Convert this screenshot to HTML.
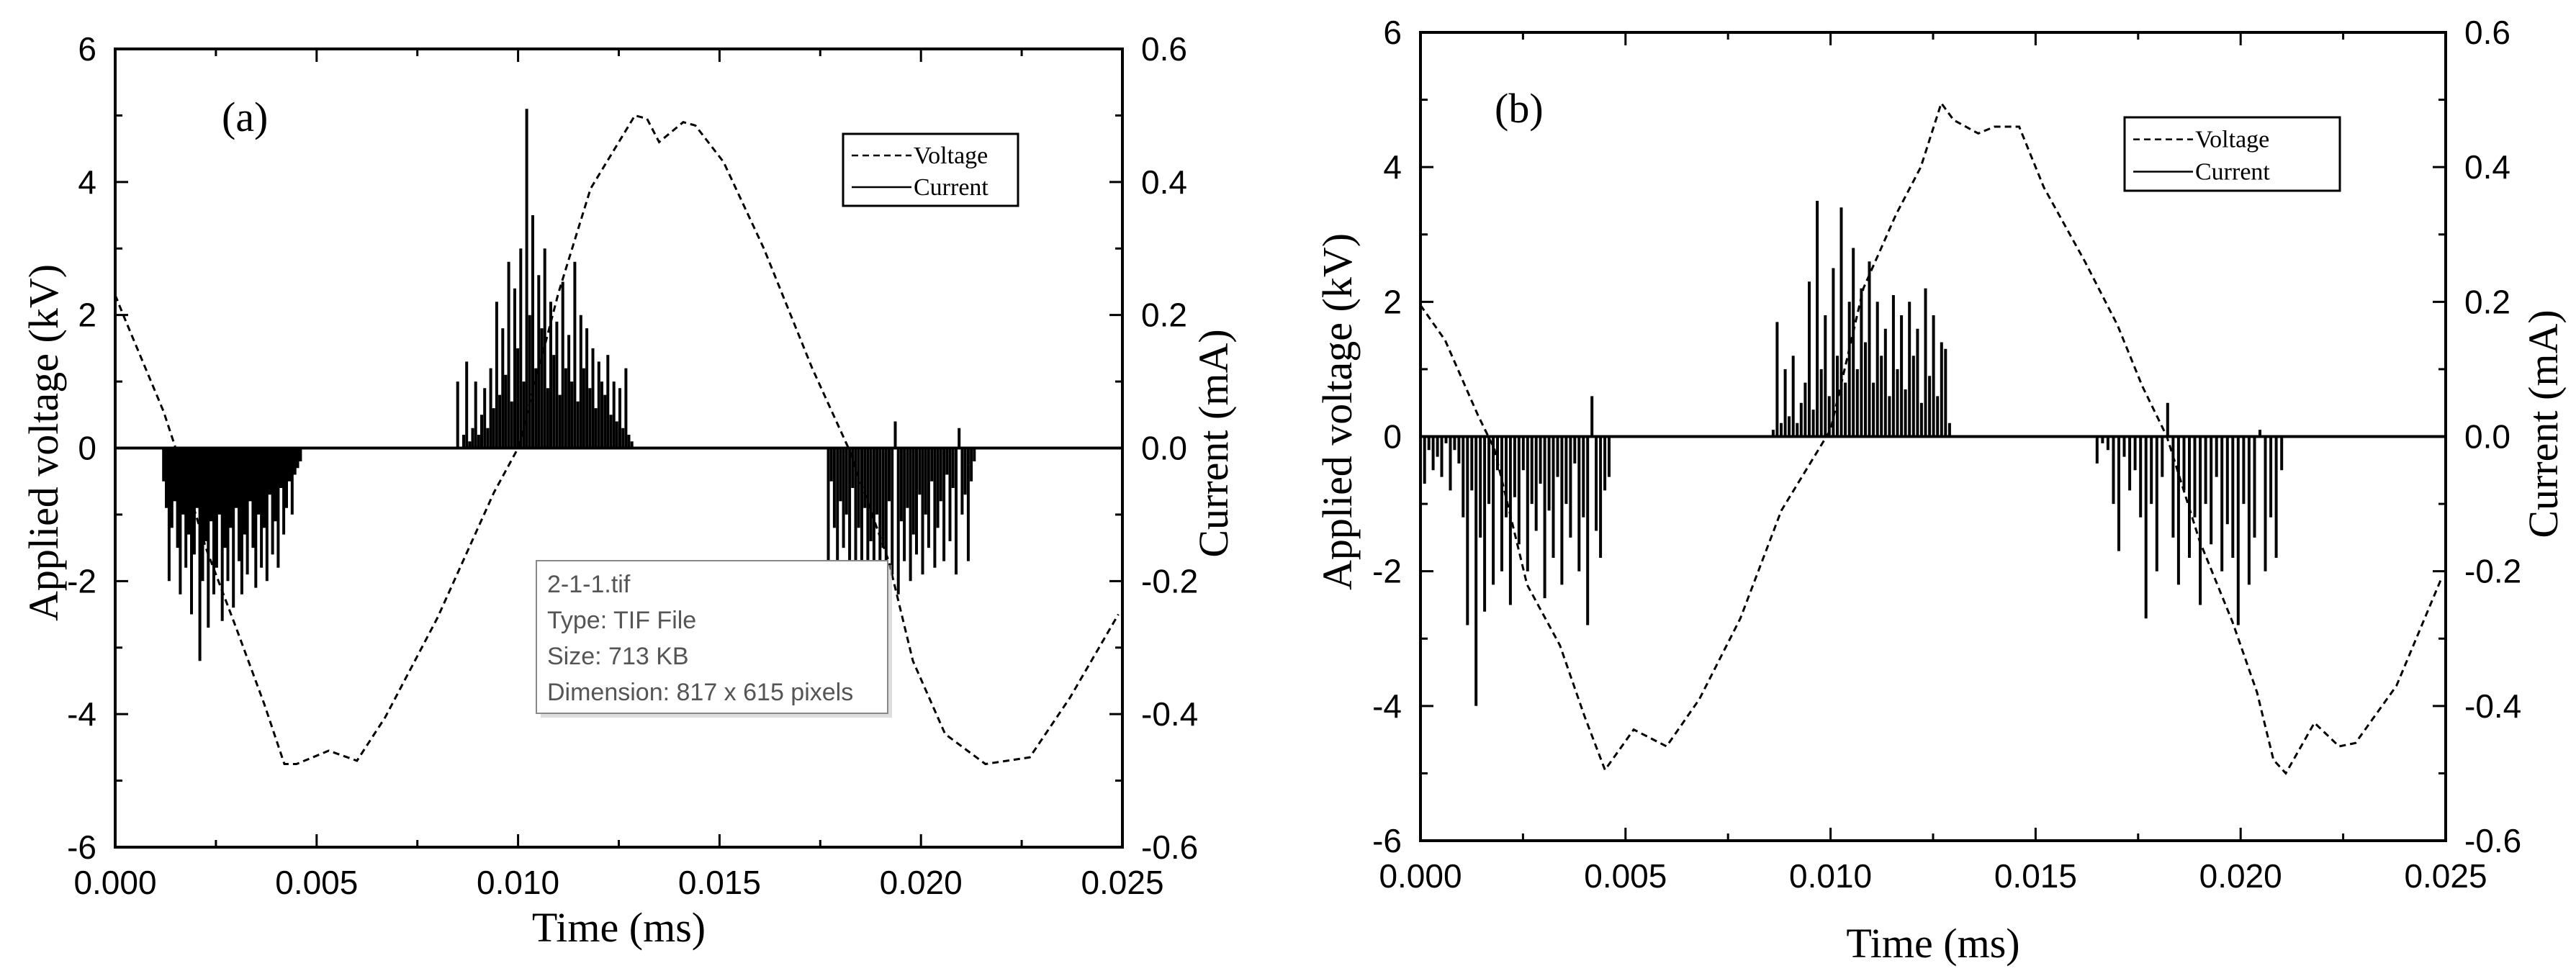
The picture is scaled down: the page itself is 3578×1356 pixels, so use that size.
<!DOCTYPE html>
<html><head><meta charset="utf-8"><title>Voltage and current waveforms</title>
<style>
html,body{margin:0;padding:0;background:#fff;}
svg{display:block;}
.tick{font-family:"Liberation Sans",Arial,sans-serif;font-size:46px;fill:#000;}
.title{font-family:"Liberation Serif","Times New Roman",serif;font-size:58px;fill:#000;}
.leg{font-family:"Liberation Serif","Times New Roman",serif;font-size:34px;fill:#000;}
.tip{font-family:"Liberation Sans",sans-serif;font-size:34px;fill:#555;}
</style></head>
<body>
<svg id="fig" xmlns="http://www.w3.org/2000/svg" width="3578" height="1356" viewBox="0 0 3578 1356">
<rect x="0" y="0" width="3578" height="1356" fill="#fff"/>
</svg>
<script>
// ---- shared tick labels ----
const xTicks = [0, 0.005, 0.010, 0.015, 0.020, 0.025];
const xTickLabels = ["0.000","0.005","0.010","0.015","0.020","0.025"];
const yTicks = [-6,-4,-2,0,2,4,6];
const yTickLabels = ["-6","-4","-2","0","2","4","6"];
const y2TickLabels = ["-0.6","-0.4","-0.2","0.0","0.2","0.4","0.6"];

// ---- panel (a) data ----
const voltA_t = [0,0.0002,0.0012,0.0015,0.00225,0.003,0.0037,0.0042,0.0045,0.0053,0.006,0.0067,0.008,0.0094,0.010,0.011,0.0118,0.0129,0.0132,0.0135,0.0141,0.0144,0.0151,0.0161,0.0173,0.0182,0.0192,0.0198,0.0206,0.0216,0.0227,0.0237,0.0249];
const voltA_v = [2.3,2.0,0.55,0,-1.5,-2.7,-3.85,-4.75,-4.75,-4.55,-4.7,-4.05,-2.55,-0.67,0,2.33,3.9,5.0,4.95,4.6,4.9,4.85,4.3,3.0,1.2,0,-1.7,-3.2,-4.3,-4.75,-4.65,-3.75,-2.5];
const burstA1 = [0.0012,0.0046];
const currA1 = [-0.05,-0.09,-0.2,-0.12,-0.08,-0.15,-0.22,-0.1,-0.18,-0.13,-0.25,-0.16,-0.09,-0.32,-0.2,-0.14,-0.27,-0.11,-0.22,-0.18,-0.1,-0.26,-0.15,-0.2,-0.12,-0.24,-0.09,-0.17,-0.22,-0.13,-0.19,-0.08,-0.15,-0.21,-0.1,-0.18,-0.12,-0.2,-0.07,-0.16,-0.11,-0.18,-0.06,-0.13,-0.09,-0.05,-0.1,-0.04,-0.03,-0.02];
const burstA2 = [0.0085,0.0129];
const currA2 = [0.1,0,0.02,0.13,0.01,0.03,0.1,0.02,0.05,0.09,0.03,0.12,0.06,0.22,0.08,0.18,0.11,0.28,0.07,0.24,0.15,0.3,0.1,0.51,0.2,0.35,0.12,0.26,0.18,0.3,0.09,0.22,0.14,0.19,0.08,0.25,0.12,0.17,0.1,0.28,0.07,0.2,0.12,0.18,0.09,0.15,0.06,0.13,0.1,0.08,0.14,0.05,0.1,0.04,0.09,0.03,0.12,0.02,0.01,0];
const burstA3 = [0.0177,0.0214];
const currA3 = [-0.17,-0.05,-0.12,-0.2,-0.08,-0.15,-0.1,-0.18,-0.06,-0.22,-0.12,-0.25,-0.09,-0.18,-0.14,-0.28,-0.1,-0.2,-0.15,-0.24,-0.08,-0.19,0.04,-0.22,-0.11,-0.17,-0.09,-0.2,-0.13,-0.16,-0.07,-0.19,-0.1,-0.15,-0.05,-0.18,-0.12,-0.08,-0.17,-0.04,-0.14,-0.06,-0.19,0.03,-0.1,-0.07,-0.17,-0.05,-0.02,0];

// ---- panel (b) data ----
const voltB_t = [0,0.0006,0.0014,0.0018,0.0026,0.0034,0.004,0.0045,0.0052,0.006,0.0068,0.0078,0.0088,0.0096,0.010,0.0108,0.0116,0.0122,0.0127,0.013,0.0136,0.014,0.0146,0.0152,0.0162,0.017,0.0176,0.0182,0.019,0.0198,0.0204,0.0208,0.0211,0.0218,0.0224,0.0228,0.0238,0.0249];
const voltB_v = [1.95,1.43,0.32,-0.18,-2.2,-3.1,-4.15,-4.95,-4.35,-4.6,-3.9,-2.7,-1.1,-0.3,0.1,2.2,3.3,4.0,4.95,4.7,4.5,4.6,4.6,3.7,2.6,1.65,0.75,0,-1.55,-2.75,-3.8,-4.8,-5.0,-4.25,-4.6,-4.55,-3.7,-2.1];
const burstB1 = [0.0001,0.0046];
const currB1 = [-0.07,-0.02,-0.05,-0.03,-0.06,-0.01,-0.08,-0.02,-0.04,-0.12,-0.28,-0.08,-0.4,-0.15,-0.26,-0.1,-0.22,-0.05,-0.2,-0.12,-0.25,-0.09,-0.16,-0.05,-0.2,-0.1,-0.14,-0.07,-0.24,-0.11,-0.18,-0.06,-0.22,-0.1,-0.15,-0.04,-0.2,-0.12,-0.28,0.06,-0.14,-0.18,-0.08,-0.06];
const burstB2 = [0.0086,0.013];
const currB2 = [0.01,0.17,0.02,0.1,0.03,0.12,0.02,0.05,0.08,0.23,0.04,0.35,0.1,0.18,0.06,0.25,0.12,0.34,0.08,0.2,0.28,0.1,0.22,0.14,0.26,0.08,0.2,0.12,0.16,0.06,0.21,0.1,0.18,0.07,0.2,0.12,0.16,0.05,0.22,0.09,0.18,0.06,0.14,0.13,0.02,0];
const burstB3 = [0.0165,0.021];
const currB3 = [-0.04,-0.01,-0.02,-0.1,-0.17,-0.03,-0.08,-0.05,-0.12,-0.27,-0.1,-0.2,-0.06,0.05,-0.15,-0.22,-0.08,-0.18,-0.12,-0.25,-0.1,-0.16,-0.06,-0.2,-0.13,-0.18,-0.28,-0.1,-0.22,-0.15,0.01,-0.2,-0.12,-0.18,-0.05];

const NS = "http://www.w3.org/2000/svg";
const svg = document.getElementById('fig');
function el(tag, attrs, parent, text){
  const e = document.createElementNS(NS, tag);
  for (const k in attrs) e.setAttribute(k, attrs[k]);
  if (text !== undefined) e.textContent = text;
  (parent||svg).appendChild(e);
  return e;
}

function panel(cfg){
  const g = el('g', {});
  
  
  const X = t => cfg.x0 + (t/0.025)*(cfg.x1-cfg.x0);
  const Y = v => cfg.y1 - ((v+6)/12)*(cfg.y1-cfg.y0);
  const Yc = c => Y(c*10);
  const tk = el('g', {stroke:'#000','stroke-width':3}, g);
  
  
  for (let i=0;i<=10;i++){
    const x = X(i*0.0025), L = (i%2===0)?18:10;
    el('line',{x1:x,y1:cfg.y1,x2:x,y2:cfg.y1-L},tk);
    el('line',{x1:x,y1:cfg.y0,x2:x,y2:cfg.y0+L},tk);
  }
  for (let i=-6;i<=6;i++){
    const y = Y(i), L = (i%2===0)?18:10;
    el('line',{x1:cfg.x0,y1:y,x2:cfg.x0+L,y2:y},tk);
    el('line',{x1:cfg.x1,y1:y,x2:cfg.x1-L,y2:y},tk);
  }
  const fr = el('rect',{x:cfg.x0,y:cfg.y0,width:cfg.x1-cfg.x0,height:cfg.y1-cfg.y0,fill:'none',stroke:'#000','stroke-width':4},g);
  
  
  xTicks.forEach((t,i)=>{
    const tx = el('text',{x:X(t),y:cfg.xLabY,'text-anchor':'middle','class':'tick'},g,xTickLabels[i]);
    
    
  });
  yTicks.forEach((v,i)=>{
    const ty = el('text',{x:cfg.x0-26,y:Y(v)+16,'text-anchor':'end','class':'tick'},g,yTickLabels[i]);
    
    
    const ty2 = el('text',{x:cfg.x1+26,y:Y(v)+16,'text-anchor':'start','class':'tick'},g,y2TickLabels[i]);
    
    
  });
  const xt = el('text',{x:(cfg.x0+cfg.x1)/2,y:cfg.xTitleY,'text-anchor':'middle','class':'title'},g,'Time (ms)');
  
  
  const yt = el('text',{x:0,y:0,'text-anchor':'middle','class':'title',transform:`translate(${cfg.yTitleX},${cfg.yTitleY}) rotate(-90)`},g,'Applied voltage (kV)');
  
  
  const y2t = el('text',{x:0,y:0,'text-anchor':'middle','class':'title',transform:`translate(${cfg.y2TitleX},${cfg.y2TitleY}) rotate(-90)`},g,'Current (mA)');
  
  
  const pl = el('text',{x:cfg.labX,y:cfg.labY,'class':'title','font-size':'50'},g,cfg.letter);
  
  
  let d = `M${X(0)},${Yc(0)}`;
  cfg.bursts.forEach(b=>{
    const [t0,t1] = b.range, n = b.vals.length;
    b.vals.forEach((c,i)=>{
      const t = t0 + (t1-t0)*i/(n-1);
      d += ` L${X(t).toFixed(1)},${Yc(0).toFixed(1)} L${X(t).toFixed(1)},${Yc(c).toFixed(1)} L${X(t).toFixed(1)},${Yc(0).toFixed(1)}`;
    });
  });
  d += ` L${X(0.025)},${Yc(0)}`;
  const cur = el('path',{d:d,fill:'none',stroke:'#000','stroke-width':4},g);
  
  
  const vd = cfg.vt.map((t,i)=>(i?'L':'M')+X(t).toFixed(1)+','+Y(cfg.vv[i]).toFixed(1)).join(' ');
  const vol = el('path',{d:vd,fill:'none',stroke:'#000','stroke-width':3,'stroke-dasharray':'9,6'},g);
  
  
  const lg = el('g',{},g);
  
  
  const L = cfg.leg;
  el('rect',{x:L[0],y:L[1],width:L[2]-L[0],height:L[3]-L[1],fill:'#fff',stroke:'#000','stroke-width':3},lg);
  const h = L[3]-L[1];
  el('line',{x1:L[0]+12,y1:L[1]+h*0.3,x2:L[0]+95,y2:L[1]+h*0.3,stroke:'#000','stroke-width':2.5,'stroke-dasharray':'9,6'},lg);
  el('line',{x1:L[0]+12,y1:L[1]+h*0.74,x2:L[0]+95,y2:L[1]+h*0.74,stroke:'#000','stroke-width':2.5},lg);
  const lv = el('text',{x:L[0]+98,y:L[1]+h*0.3+11,'class':'leg'},lg,'Voltage');
  
  
  const lc = el('text',{x:L[0]+98,y:L[1]+h*0.74+11,'class':'leg'},lg,'Current');
  
  
}

panel({name:'panel-a',letter:'(a)',x0:160,x1:1559,y0:68,y1:1177,xLabY:1242,xTitleY:1308,
  yTitleX:80,yTitleY:615,y2TitleX:1705,y2TitleY:616,labX:308,labY:182,
  leg:[1171,186,1414,286],vt:voltA_t,vv:voltA_v,
  bursts:[{range:burstA1,vals:currA1},{range:burstA2,vals:currA2},{range:burstA3,vals:currA3}]});
panel({name:'panel-b',letter:'(b)',x0:1973,x1:3397,y0:45,y1:1168,xLabY:1233,xTitleY:1330,
  yTitleX:1877,yTitleY:572,y2TitleX:3552,y2TitleY:589,labX:2076,labY:170,
  leg:[2951,163,3250,265],vt:voltB_t,vv:voltB_v,
  bursts:[{range:burstB1,vals:currB1},{range:burstB2,vals:currB2},{range:burstB3,vals:currB3}]});

const tip = el('g',{});


el('rect',{x:751,y:785,width:488,height:212,fill:'#bbb',opacity:0.5},tip);
el('rect',{x:745,y:779,width:488,height:212,fill:'#fff',stroke:'#888','stroke-width':2},tip);
const tipLines = ["2-1-1.tif","Type: TIF File","Size: 713 KB","Dimension: 817 x 615 pixels"];
tipLines.forEach((s,i)=>{
  const t = el('text',{x:760,y:823+i*50,'class':'tip'},tip,s);
  
  
});
</script>
</body></html>
